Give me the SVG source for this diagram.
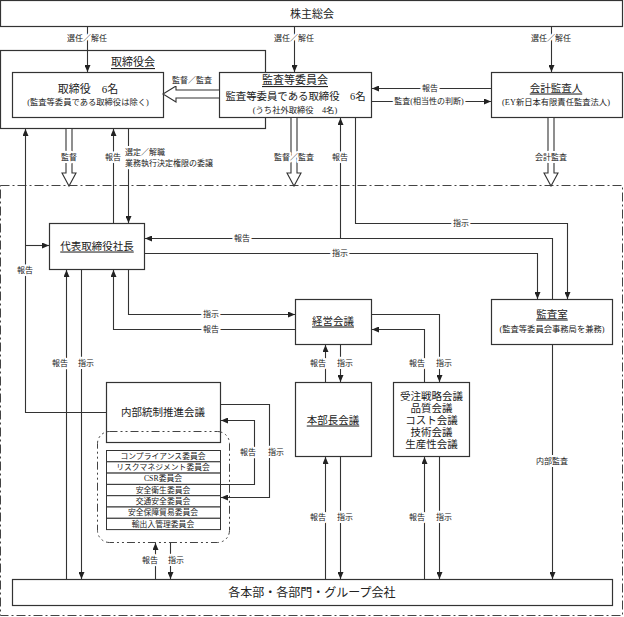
<svg xmlns="http://www.w3.org/2000/svg" width="624" height="617" viewBox="0 0 624 617">
<defs>
<marker id="ah" viewBox="0 0 7 6" refX="7" refY="3" markerWidth="7" markerHeight="6" markerUnits="userSpaceOnUse" orient="auto">
<path d="M0,0 L7,3 L0,6 z" fill="#222"/>
</marker>
<style>
text{font-family:"Liberation Serif","Noto Sans CJK JP",serif;fill:#222;text-anchor:middle;dominant-baseline:central}
.box{fill:#fff;stroke:#333;stroke-width:1.2}
.frame{fill:none;stroke:#333;stroke-width:1.2}
.dd{fill:none;stroke:#444;stroke-width:1;stroke-dasharray:9,3,2,3}
.ln{fill:none;stroke:#333;stroke-width:1.1}
.ar{fill:none;stroke:#333;stroke-width:1.1;marker-end:url(#ah)}
.hol{fill:#fff;stroke:#333;stroke-width:1.1}
.lb{font-size:8px;paint-order:stroke;stroke:#fff;stroke-width:4px;stroke-linejoin:round}
.t11{font-size:11px}
.t10{font-size:10.5px}
.t8{font-size:8.3px}
.u{text-decoration:underline}
.row{fill:#fff;stroke:#333;stroke-width:1}
</style>
</defs>

<!-- big dash-dot execution frame -->
<rect class="dd" x="0.5" y="185.5" width="622" height="430"/>

<g id="shareholders">
<rect class="box" x="0.5" y="0.5" width="622" height="26"/>
<text class="t11" x="312" y="14">株主総会</text>
</g>

<g id="board">
<rect class="frame" x="0.5" y="50.5" width="265" height="78"/>
<text class="t11 u" x="133" y="62">取締役会</text>
</g>

<g id="directors">
<rect class="box" x="12.5" y="72.5" width="151" height="45"/>
<text class="t11" x="88" y="89">取締役　6名</text>
<text class="t8" x="88" y="102">(監査等委員である取締役は除く)</text>
</g>

<g id="audit-committee">
<rect class="box" x="219.5" y="72.5" width="152" height="45"/>
<text class="t11 u" x="295" y="80">監査等委員会</text>
<text font-size="10.4" x="295.5" y="96">監査等委員である取締役　6名</text>
<text class="t8" x="295" y="110">(うち社外取締役　4名)</text>
</g>

<g id="accounting-auditor">
<rect class="box" x="491.5" y="72.5" width="131" height="45"/>
<text class="t10 u" x="556" y="88">会計監査人</text>
<text class="t8" x="556" y="102">(EY新日本有限責任監査法人)</text>
</g>

<g id="president">
<rect class="box" x="49.5" y="223.5" width="95" height="46"/>
<text class="t10 u" x="97" y="246">代表取締役社長</text>
</g>

<g id="management-meeting">
<rect class="box" x="295.5" y="299.5" width="76" height="45"/>
<text class="t10 u" x="333" y="321">経営会議</text>
</g>

<g id="audit-office">
<rect class="box" x="491.5" y="299.5" width="121" height="45"/>
<text class="t10 u" x="552" y="314">監査室</text>
<text class="t8" x="552" y="329">(監査等委員会事務局を兼務)</text>
</g>

<g id="internal-control">
<rect class="box" x="106.5" y="382.5" width="114" height="60"/>
<text class="t10" x="163" y="412">内部統制推進会議</text>
</g>

<g id="committees">
<rect x="97.5" y="431.5" width="132" height="111" rx="12" ry="12" fill="none" stroke="#444" stroke-width="1" stroke-dasharray="8,3,2,3,2,3"/>
<rect class="row" x="106.5" y="450.5" width="114" height="11.3"/>
<rect class="row" x="106.5" y="461.8" width="114" height="11.3"/>
<rect class="row" x="106.5" y="473.1" width="114" height="11.3"/>
<rect class="row" x="106.5" y="484.4" width="114" height="11.3"/>
<rect class="row" x="106.5" y="495.7" width="114" height="11.3"/>
<rect class="row" x="106.5" y="507.0" width="114" height="11.3"/>
<rect class="row" x="106.5" y="518.3" width="114" height="11.3"/>
<text font-size="7.8" x="163" y="456.3">コンプライアンス委員会</text>
<text font-size="7.8" x="163" y="467.6">リスクマネジメント委員会</text>
<text font-size="7.8" x="163" y="478.9">CSR委員会</text>
<text font-size="7.8" x="163" y="490.2">安全衛生委員会</text>
<text font-size="7.8" x="163" y="501.5">交通安全委員会</text>
<text font-size="7.8" x="163" y="512.8">安全保障貿易委員会</text>
<text font-size="7.8" x="163" y="524.1">輸出入管理委員会</text>
</g>

<g id="division-heads">
<rect class="box" x="295.5" y="382.5" width="76" height="74"/>
<text class="t10 u" x="333" y="420">本部長会議</text>
</g>

<g id="meetings">
<rect class="box" x="393.5" y="382.5" width="76" height="74"/>
<text class="t10" x="431.5" y="396">受注戦略会議</text>
<text class="t10" x="431.5" y="408">品質会議</text>
<text class="t10" x="431.5" y="420">コスト会議</text>
<text class="t10" x="431.5" y="432">技術会議</text>
<text class="t10" x="431.5" y="444">生産性会議</text>
</g>

<g id="divisions">
<rect class="box" x="12.5" y="579.5" width="600" height="26"/>
<text font-size="12" x="312" y="593">各本部・各部門・グループ会社</text>
</g>

<g id="connectors">
<path class="ar" d="M87.5,27 V72"/>
<path class="ar" d="M294.5,27 V72"/>
<path class="ar" d="M551.5,27 V72"/>
<path class="hol" d="M219,90 H176 V86 L163,94 L176,102 V98 H219"/>
<path class="ar" d="M491,88.5 H372"/>
<path class="ar" d="M372,101.5 H491"/>
<path class="hol" d="M66,129 V173 H62 L69,186 L76,173 H72 V129"/>
<path class="hol" d="M291,118 V173 H287 L294,186 L301,173 H297 V118"/>
<path class="hol" d="M548,118 V173 H544 L551,186 L558,173 H554 V118"/>
<path class="ar" d="M113.5,223 V129"/>
<path class="ar" d="M128.5,129 V223"/>
<path class="ar" d="M106,412.5 H25.5 V129"/>
<path class="ar" d="M25.5,245.5 H49"/>
<path class="ar" d="M552.5,299 V238.5 H145"/>
<path class="ar" d="M340.5,238.5 V118"/>
<path class="ar" d="M355.5,118 V223.5 H567.5 V299"/>
<path class="ar" d="M145,253.5 H537.5 V299"/>
<path class="ar" d="M128.5,270 V314.5 H295"/>
<path class="ar" d="M295,329.5 H113.5 V270"/>
<path class="ar" d="M66.5,579 V270"/>
<path class="ar" d="M81.5,270 V579"/>
<path class="ar" d="M372,314.5 H439.5 V382"/>
<path class="ar" d="M424.5,382 V329.5 H372"/>
<path class="ar" d="M325.5,382 V345"/>
<path class="ar" d="M340.5,345 V382"/>
<path class="ar" d="M325.5,579 V457"/>
<path class="ar" d="M340.5,457 V579"/>
<path class="ar" d="M424.5,579 V457"/>
<path class="ar" d="M439.5,457 V579"/>
<path class="ar" d="M552.5,345 V579"/>
<path class="ar" d="M221,484.5 H254.5 V420.5 H221"/>
<path class="ar" d="M221,404.5 H269.5 V497.5 H221"/>
<path class="ar" d="M155.5,579 V543"/>
<path class="ar" d="M170.5,543 V579"/>
</g>

<g id="labels">
<text class="lb" x="87" y="38">選任／解任</text>
<text class="lb" x="294" y="38">選任／解任</text>
<text class="lb" x="551" y="38">選任／解任</text>
<text class="lb" x="192" y="80">監督／監査</text>
<text class="lb" x="430" y="88">報告</text>
<text class="lb" x="429" y="101">監査(相当性の判断)</text>
<text class="lb" x="69" y="157">監督</text>
<text class="lb" x="113" y="157">報告</text>
<text class="lb" x="125" y="152" style="text-anchor:start">選定／解職</text>
<text class="lb" x="125" y="163" style="text-anchor:start">業務執行決定権限の委譲</text>
<text class="lb" x="294" y="157">監督／監査</text>
<text class="lb" x="340" y="157">報告</text>
<text class="lb" x="551" y="157">会計監査</text>
<text class="lb" x="461" y="223">指示</text>
<text class="lb" x="242" y="238">報告</text>
<text class="lb" x="340" y="253">指示</text>
<text class="lb" x="25" y="270">報告</text>
<text class="lb" x="211" y="314">指示</text>
<text class="lb" x="211" y="329">報告</text>
<text class="lb" x="60" y="363">報告</text>
<text class="lb" x="86" y="363">指示</text>
<text class="lb" x="318" y="363">報告</text>
<text class="lb" x="345" y="363">指示</text>
<text class="lb" x="417" y="363">報告</text>
<text class="lb" x="444" y="363">指示</text>
<text class="lb" x="248" y="452">報告</text>
<text class="lb" x="276" y="452">指示</text>
<text class="lb" x="552" y="461">内部監査</text>
<text class="lb" x="318" y="517">報告</text>
<text class="lb" x="345" y="517">指示</text>
<text class="lb" x="417" y="517">報告</text>
<text class="lb" x="444" y="517">指示</text>
<text class="lb" x="150" y="560">報告</text>
<text class="lb" x="176" y="560">指示</text>
</g>
</svg>
